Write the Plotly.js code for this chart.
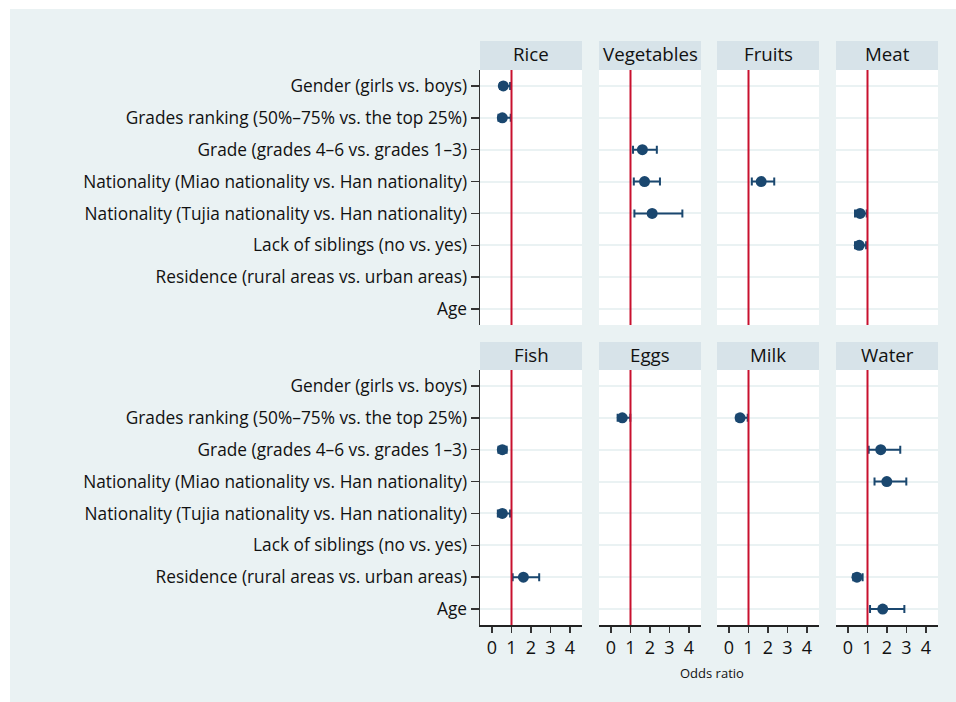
<!DOCTYPE html>
<html>
<head>
<meta charset="utf-8">
<script src="https://cdn.plot.ly/plotly-3.0.1.min.js"></script>
<style>html,body{margin:0;padding:0;background:#fff;}#chart{width:956px;height:702px;}</style>
</head>
<body>
<div id="chart"></div>
<script>
// ---- data ----
const categories = [
  "Gender (girls vs. boys)",
  "Grades ranking (50%–75% vs. the top 25%)",
  "Grade (grades 4–6 vs. grades 1–3)",
  "Nationality (Miao nationality vs. Han nationality)",
  "Nationality (Tujia nationality vs. Han nationality)",
  "Lack of siblings (no vs. yes)",
  "Residence (rural areas vs. urban areas)",
  "Age"
];
const foods = ["Rice", "Vegetables", "Fruits", "Meat", "Fish", "Eggs", "Milk", "Water"];
const xTicks = [0, 1, 2, 3, 4];
const refLine = 1;
const xLabel = "Odds ratio";

const riceOR = [0.58, 0.53, null, null, null, null, null, null];
const riceLo = [0.41, 0.33, null, null, null, null, null, null];
const riceHi = [0.93, 0.96, null, null, null, null, null, null];

const vegOR = [null, null, 1.61, 1.72, 2.11, null, null, null];
const vegLo = [null, null, 1.13, 1.17, 1.20, null, null, null];
const vegHi = [null, null, 2.35, 2.51, 3.66, null, null, null];

const fruitOR = [null, null, null, 1.65, null, null, null, null];
const fruitLo = [null, null, null, 1.17, null, null, null, null];
const fruitHi = [null, null, null, 2.32, null, null, null, null];

const meatOR = [null, null, null, null, 0.62, 0.58, null, null];
const meatLo = [null, null, null, null, 0.36, 0.36, null, null];
const meatHi = [null, null, null, null, 0.96, 0.93, null, null];

const fishOR = [null, null, 0.53, null, 0.53, null, 1.61, null];
const fishLo = [null, null, 0.33, null, 0.30, null, 1.06, null];
const fishHi = [null, null, 0.75, null, 0.93, null, 2.42, null];

const eggOR = [null, 0.58, null, null, null, null, null, null];
const eggLo = [null, 0.34, null, null, null, null, null, null];
const eggHi = [null, 0.99, null, null, null, null, null, null];

const milkOR = [null, 0.57, null, null, null, null, null, null];
const milkLo = [null, 0.39, null, null, null, null, null, null];
const milkHi = [null, 0.96, null, null, null, null, null, null];

const waterOR = [null, null, 1.68, 1.99, null, null, 0.46, 1.78];
const waterLo = [null, null, 1.06, 1.36, null, null, 0.27, 1.13];
const waterHi = [null, null, 2.68, 2.99, null, null, 0.75, 2.89];

const seriesOR = [riceOR, vegOR, fruitOR, meatOR, fishOR, eggOR, milkOR, waterOR];
const seriesLo = [riceLo, vegLo, fruitLo, meatLo, fishLo, eggLo, milkLo, waterLo];
const seriesHi = [riceHi, vegHi, fruitHi, meatHi, fishHi, eggHi, milkHi, waterHi];

// ---- layout geometry (pixels) ----
const W = 956, H = 702;
const colX = [[480, 582], [599, 701], [717, 819], [836, 938]];
const rowY = [[70, 325], [370, 625]];
const barY = [[41, 70], [342, 370]];
const px = v => v / W;
const py = v => 1 - v / H;

const navy = "#1a476f";
const red = "#c8102e";
const font = "'Open Sans', 'Noto Sans', sans-serif";

const traces = [];
const layout = {
  width: W, height: H,
  margin: {l: 0, r: 0, t: 0, b: 0},
  paper_bgcolor: "#eaf2f3",
  plot_bgcolor: "#ffffff",
  showlegend: false,
  hovermode: false,
  font: {family: font, color: "#111"},
  shapes: [],
  annotations: []
};

// white strips around outer panel
layout.shapes.push({type: "rect", xref: "paper", yref: "paper", x0: 0, x1: 1, y0: py(9), y1: 1,
  fillcolor: "#ffffff", line: {width: 0}, layer: "below"});
layout.shapes.push({type: "rect", xref: "paper", yref: "paper", x0: 0, x1: px(10), y0: 0, y1: 1,
  fillcolor: "#ffffff", line: {width: 0}, layer: "below"});

foods.forEach((food, i) => {
  const r = Math.floor(i / 4), c = i % 4;
  const n = i + 1;
  const xa = "xaxis" + (n === 1 ? "" : n);
  const ya = "yaxis" + (n === 1 ? "" : n);
  const xr = "x" + (n === 1 ? "" : n);
  const yr = "y" + (n === 1 ? "" : n);

  const ors = seriesOR[i], lo = seriesLo[i], hi = seriesHi[i];
  traces.push({
    type: "scatter", mode: "markers",
    x: ors, y: categories,
    xaxis: xr, yaxis: yr,
    marker: {color: navy, size: 11},
    error_x: {
      type: "data", symmetric: false,
      array: ors.map((v, k) => v === null ? null : hi[k] - v),
      arrayminus: ors.map((v, k) => v === null ? null : v - lo[k]),
      color: navy, thickness: 2, width: 4
    },
    cliponaxis: false
  });

  layout[xa] = {
    domain: [px(colX[c][0]), px(colX[c][1])],
    anchor: yr,
    range: [-0.615, 4.615],
    tickvals: xTicks,
    ticktext: xTicks.map(String),
    showgrid: false, zeroline: false,
    showticklabels: r === 1,
    ticks: r === 1 ? "outside" : "",
    ticklen: 6, tickwidth: 1.5, tickcolor: "#333",
    showline: r === 1, linecolor: "#222", linewidth: 1.5,
    tickfont: {size: 18, family: font, color: "#111"},
    automargin: false
  };
  layout[ya] = {
    domain: [py(rowY[r][1]), py(rowY[r][0])],
    anchor: xr,
    type: "category",
    categoryorder: "array",
    categoryarray: categories,
    range: [7.5, -0.5],
    showgrid: true, gridcolor: "#eaf2f3", gridwidth: 2,
    zeroline: false,
    showticklabels: c === 0,
    ticks: c === 0 ? "outside" : "",
    ticklen: 8, tickwidth: 1.5, tickcolor: "#333",
    showline: c === 0, linecolor: "#333", linewidth: 1.5,
    tickfont: {size: 17.3, family: font, color: "#111"},
    automargin: false
  };

  // reference line at OR = 1
  layout.shapes.push({type: "line", xref: xr, yref: yr + " domain",
    x0: refLine, x1: refLine, y0: 0, y1: 1, line: {color: red, width: 2}});

  // facet title bar
  layout.shapes.push({type: "rect", xref: "paper", yref: "paper",
    x0: px(colX[c][0]), x1: px(colX[c][1]), y0: py(barY[r][1]), y1: py(barY[r][0]),
    fillcolor: "#d7e3e9", line: {width: 0}});
  layout.annotations.push({xref: "paper", yref: "paper",
    x: px((colX[c][0] + colX[c][1]) / 2), y: py((barY[r][0] + barY[r][1]) / 2 - 2),
    text: food, showarrow: false, xanchor: "center", yanchor: "middle",
    font: {size: 18.7, family: font, color: "#111"}});
});

layout.annotations.push({xref: "paper", yref: "paper", x: px(712), y: py(673),
  text: xLabel, showarrow: false, xanchor: "center", yanchor: "middle",
  font: {size: 13, family: font, color: "#111"}});

Plotly.newPlot("chart", traces, layout, {staticPlot: true, displayModeBar: false});
</script>
</body>
</html>
